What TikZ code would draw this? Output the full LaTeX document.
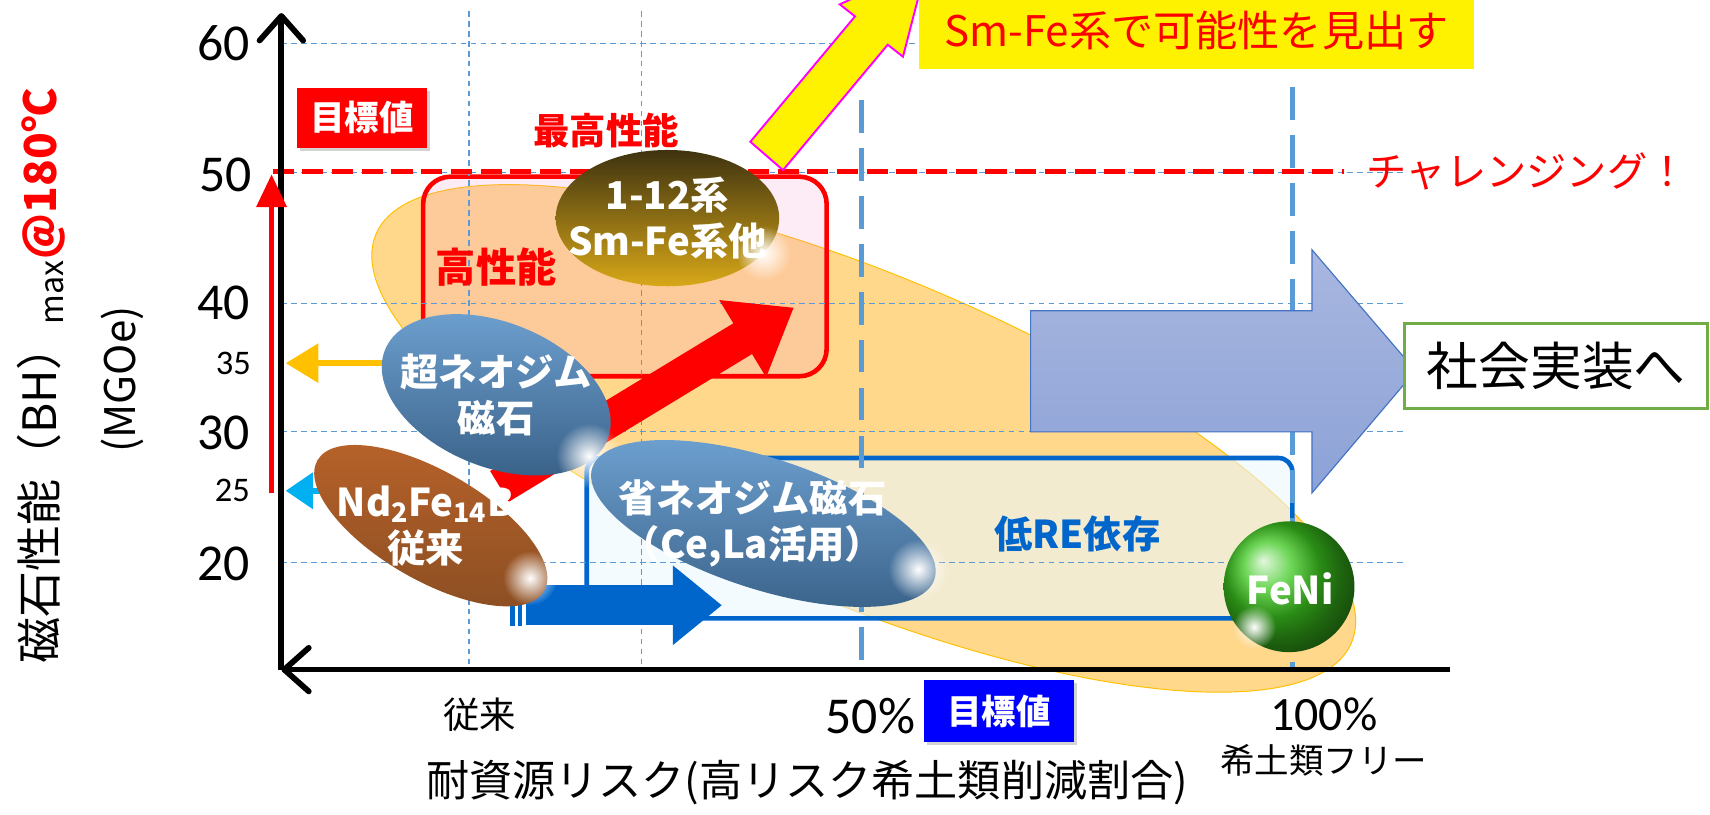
\documentclass[tikz,border=0pt]{standalone}
\usepackage{fontspec}
\setmainfont{Noto Sans CJK JP}
\newfontfamily\calibri{Carlito}
\usetikzlibrary{arrows.meta,shapes.geometric,shadows,fadings,positioning}

% palette
\definecolor{gridblue}{HTML}{5B9BD5}
\definecolor{reblue}{HTML}{0066CC}
\definecolor{ambar}{HTML}{FFC000}
\definecolor{skycyan}{HTML}{00B0F0}
\definecolor{blobfill}{HTML}{FFD88C}
\definecolor{lavtop}{HTML}{A9B7E0}
\definecolor{lavbot}{HTML}{8CA2D6}
\definecolor{lavline}{HTML}{4472C4}
\definecolor{leafgreen}{HTML}{70AD47}
\definecolor{hotpink}{HTML}{FF00FF}
% magnet body colours
\definecolor{goldtop}{HTML}{3E3210}
\definecolor{goldmid}{HTML}{8C6C14}
\definecolor{goldbot}{HTML}{D8A818}
\definecolor{rusttop}{HTML}{B8622A}
\definecolor{rustmid}{HTML}{3E220E}
\definecolor{rustbot}{HTML}{8A4E22}
\definecolor{steeltop}{HTML}{6FA2D2}
\definecolor{steelmid}{HTML}{273B55}
\definecolor{steelbot}{HTML}{3A6289}
\definecolor{fenigreen}{HTML}{3CC81E}

\newcommand{\fsz}[2]{\fontsize{#1}{#2}\selectfont}
\tikzfading[name=glow, inner color=transparent!0, outer color=transparent!100]

\begin{document}
\begin{tikzpicture}[
  x=0.02cm, y=-0.02cm,
  grid/.style={gridblue, line width=0.6pt, dash pattern=on 3pt off 2.2pt},
  goal/.style={gridblue, line width=2.8pt, dash pattern=on 17pt off 8pt},
  axis/.style={line width=3pt, -{Straight Barb[length=0.45cm, width=0.8cm, round]}},
  tick/.style={font=\calibri\fsz{27}{27}, inner sep=0pt},
  subtick/.style={font=\calibri\fsz{18}{18}, inner sep=0pt},
  badge/.style={font=\bfseries\fsz{18}{18}, text=white, minimum width=2.4cm,
                minimum height=1.1cm,
                drop shadow={opacity=0.35, shadow xshift=1.5pt, shadow yshift=-1.5pt}},
  gem/.style={ellipse, inner sep=0pt},
  steel/.style={top color=steeltop, middle color=steelmid, bottom color=steelbot},
  gemlabel/.style={text=white, font=\bfseries\fsz{20}{24}, align=center},
  glint/.style={white, path fading=glow}
]
\useasboundingbox (0,0) rectangle (1568,747);
\clip (0,0) rectangle (1568,747);

% wide target region
\filldraw[fill=blobfill, draw=ambar, line width=0.5pt, rotate around={-22.7:(792,402)}]
  (792,402) ellipse [x radius=9.7cm, y radius=3cm];

% performance / low-RE boxes
\filldraw[fill=magenta!40, fill opacity=0.2, draw=red, line width=2.4pt, rounded corners=0.5cm]
  (388,162) rectangle (758,345);
\filldraw[fill=cyan!8, fill opacity=0.6, draw=reblue, line width=2.4pt, rounded corners=0.25cm]
  (538,420) rectangle (1185,567);

% grid
\draw[grid] (258,40) -- (1340,40);
\foreach \v in {158,278,396,516}
  \draw[grid] (258,\v) -- (1290,\v);
\foreach \u in {430,588}
  \draw[grid] (\u,10) -- (\u,614);
\draw[goal] (790,92) -- (790,614);
\draw[goal] (1185,80) -- (1185,614);
\draw[red, line width=2.8pt, dash pattern=on 11pt off 4.5pt] (250,157) -- (1232,157);

% axes
\coordinate (origin) at (258,614);
\coordinate (ytop) at (258,12);
\coordinate (xend) at (1330,614);
\draw[axis] (origin) -- (ytop);
\draw[axis] (xend) -- (origin);

% tick labels
\node[tick] (t60) at (205,40) {60};
\node[tick] (t50) at (207,160) {50};
\node[tick] (t40) at (205,278) {40};
\node[tick] (t30) at (205,397) {30};
\node[tick] (t20) at (205,517) {20};
\node[subtick] (t35) at (214,333) {35};
\node[subtick] (t25) at (213,450) {25};

% axis titles
\node[rotate=90, font=\fsz{24}{24}] (ytitle) at (38,345)
  {磁石性能（BH）\textsubscript{max}{\color{red}\bfseries\fsz{23}{23}@180℃}};
\node[rotate=90, font=\fsz{22}{22}] (yunit) at (112,348) {(MGOe)};
\node[font=\fsz{22.5}{22.5}] (xtitle) at (740,718) {耐資源リスク(高リスク希土類削減割合)};

\node[font=\fsz{19}{19}] (xold) at (440,655) {従来};
\node[font=\calibri\fsz{27}{27}] (x50) at (798,657) {50\%};
\node[font=\calibri\fsz{25}{25}] (x100) at (1214,655) {100\%};
\node[font=\fsz{18}{18}] (xfree) at (1214,697) {希土類フリー};

% target badges
\node[badge, fill=red] (goalred) at (332,108) {目標値};
\node[badge, fill=blue, minimum width=2.74cm, minimum height=1.14cm] (goalblue) at (916,652) {目標値};

% arrows onto the axis
\coordinate (rise0) at (249,452);
\coordinate (rise1) at (249,160);
\draw[red, line width=2.2pt, -{Triangle[length=0.6cm, width=0.55cm]}] (rise0) -- (rise1);
\coordinate (neoL) at (365,333);
\coordinate (y35) at (262,333);
\draw[ambar, line width=3.2pt, -{Triangle[length=0.6cm, width=0.7cm]}] (neoL) -- (y35);
\coordinate (ndL) at (310,450);
\coordinate (y25) at (262,450);
\draw[skycyan, line width=3pt, -{Triangle[length=0.5cm, width=0.65cm]}] (ndL) -- (y25);

% development arrows
\coordinate (boost0) at (458,446);
\coordinate (boost1) at (728,282);
\draw[red, line width=0.66cm, -{Triangle[length=1.1cm, width=1.58cm]}] (boost0) -- (boost1);
\coordinate (save0) at (482,555);
\coordinate (save1) at (662,555);
\fill[reblue] (468,536) rectangle (472,574);
\fill[reblue] (475,536) rectangle (479,574);
\draw[reblue, line width=0.74cm, -{Triangle[length=0.9cm, width=1.4cm]}] (save0) -- (save1);

% region labels
\node[font=\bfseries\fsz{19}{19}, text=red] (best) at (556,120) {最高性能};
\node[font=\bfseries\fsz{21}{21}, text=red] (high) at (455,245) {高性能};
\node[font=\bfseries\fsz{20}{20}, text=reblue] (lowre) at (988,490) {低RE依存};
\node[font=\fsz{21}{21}, text=red] (challenge) at (1400,157) {チャレンジング！};

% magnet families
\node[gem, minimum width=4.1cm, minimum height=2.5cm,
      top color=goldtop, middle color=goldmid, bottom color=goldbot]
  (smfe) at (612,200) {};
\fill[glint] (700,232) circle (0.5cm);
\node[gemlabel] (smfetext) at (612,200) {1-12系\\Sm-Fe系他};

\node[gem, rotate=-30, minimum width=4.8cm, minimum height=2cm,
      top color=rusttop, middle color=rustmid, bottom color=rustbot]
  (ndfeb) at (395,482) {};
\fill[glint] (486,530) circle (0.5cm);
\node[gemlabel] (ndfebtext) at (390,482) {Nd\textsubscript{2}Fe\textsubscript{14}B\\従来};

\node[gem, steel, rotate=-22, minimum width=4.4cm, minimum height=2.65cm]
  (superneo) at (455,362) {};
\fill[glint] (540,418) circle (0.6cm);
\node[gemlabel] (superneotext) at (455,362) {超ネオジム\\磁石};

\node[gem, steel, rotate=-18, minimum width=6.6cm, minimum height=2.4cm]
  (leanneo) at (700,480) {};
\fill[glint] (842,522) circle (0.55cm);
\node[gemlabel] (leanneotext) at (690,480) {省ネオジム磁石\\（Ce,La活用）};

\node[circle, minimum size=2.4cm, inner sep=0pt, shading=ball, ball color=fenigreen]
  (feni) at (1182,538) {};
\fill[glint] (1150,575) circle (0.4cm);
\node[gemlabel] (fenitext) at (1183,540) {FeNi};

% towards deployment
\path[top color=lavtop, bottom color=lavbot, draw=lavline, line width=0.6pt]
  (945,285) -- (1203,285) -- (1203,229) -- (1298,340) -- (1203,452)
  -- (1203,396) -- (945,396) -- cycle;
\node[draw=leafgreen, line width=1.6pt, fill=white, minimum width=5.56cm,
      minimum height=1.56cm, font=\fsz{27}{27}] (deploy) at (1427,336) {社会実装へ};

% Sm-Fe breakthrough
\filldraw[fill=yellow, draw=hotpink, line width=1pt]
  (688,130) -- (784,15) -- (770,4) -- (850,-33) -- (828,52) -- (814,41) -- (718,156) -- cycle;
\node[fill=yellow, minimum width=10.18cm, minimum height=1.4cm, font=\fsz{22}{22}, text=red]
  (smfebox) at (1097,28) {Sm-Fe系で可能性を見出す};
\end{tikzpicture}
\end{document}
